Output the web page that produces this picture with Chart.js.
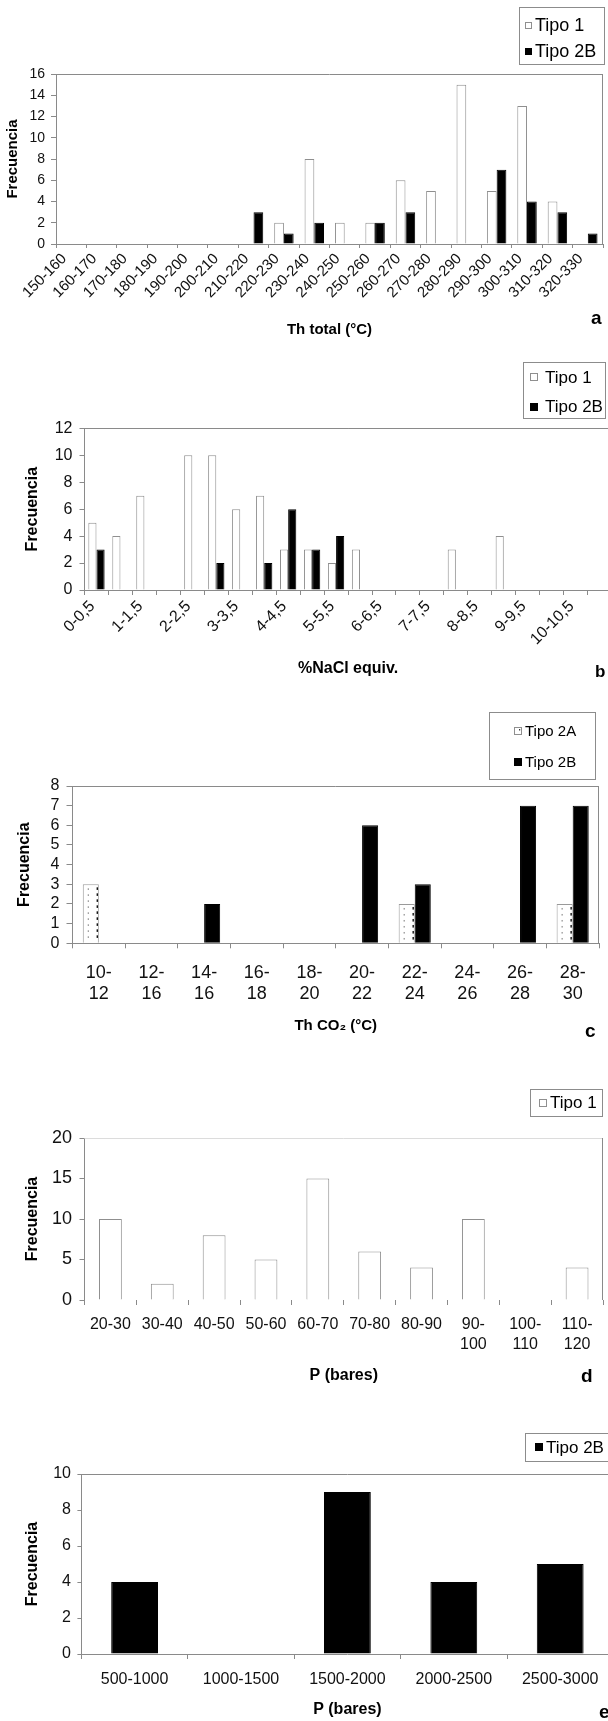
<!DOCTYPE html>
<html>
<head>
<meta charset="utf-8">
<script src="https://cdn.jsdelivr.net/npm/chart.js@4.4.1/dist/chart.umd.min.js"></script>
<style>
html,body{margin:0;padding:0;background:#fff;width:608px;height:1721px;overflow:hidden;}
.wrap{position:absolute;left:0;width:608px;overflow:hidden;background:#fff;}
canvas{display:block;}
</style>
</head>
<body>
<div class="wrap" style="top:0;height:340px"><canvas id="ca" width="608" height="340"></canvas></div>
<div class="wrap" style="top:340px;height:340px"><canvas id="cb" width="620" height="340"></canvas></div>
<div class="wrap" style="top:680px;height:360px"><canvas id="cc" width="608" height="360"></canvas></div>
<div class="wrap" style="top:1040px;height:350px"><canvas id="cd" width="608" height="350"></canvas></div>
<div class="wrap" style="top:1390px;height:331px"><canvas id="ce" width="620" height="331"></canvas></div>
<script>
// ---------------- DATA ----------------
const catA = ['150-160','160-170','170-180','180-190','190-200','200-210','210-220','220-230','230-240','240-250','250-260','260-270','270-280','280-290','290-300','300-310','310-320','320-330'];
const tipo1A  = [0,0,0,0,0,0,0,2,8,2,2,6,5,15,5,13,4,0];
const tipo2bA = [0,0,0,0,0,0,3,1,2,0,2,3,0,0,7,4,3,1];

const catB = ['0-0,5','0,5-1','1-1,5','1,5-2','2-2,5','2,5-3','3-3,5','3,5-4','4-4,5','4,5-5','5-5,5','5,5-6','6-6,5','6,5-7','7-7,5','7,5-8','8-8,5','8,5-9','9-9,5','9,5-10','10-10,5','10,5-11'];
const tipo1B  = [5,4,7,0,10,10,6,7,3,3,2,3,0,0,0,3,0,4,0,0,0,0];
const tipo2bB = [3,0,0,0,0,2,0,2,6,3,4,0,0,0,0,0,0,0,0,0,0,0];

const catC = ['10-12','12-16','14-16','16-18','18-20','20-22','22-24','24-26','26-28','28-30'];
const tipo2aC = [3,0,0,0,0,0,2,0,0,2];
const tipo2bC = [0,0,2,0,0,6,3,0,7,7];

const catD = ['20-30','30-40','40-50','50-60','60-70','70-80','80-90','90-100','100-110','110-120'];
const tipo1D = [10,2,8,5,15,6,4,10,0,4];

const catE = ['500-1000','1000-1500','1500-2000','2000-2500','2500-3000'];
const tipo2bE = [4,0,9,4,5];

const yTitle = 'Frecuencia';

// ---------------- STYLE ----------------
const FONT = "'Liberation Sans', Arial, Helvetica, sans-serif";
Chart.defaults.font.family = FONT;
Chart.defaults.color = '#111';
const GRAY = '#8a8a8a';

function ds1(label, data){ return {label, data, backgroundColor:'#ffffff', borderColor:'#8f8f8f', borderWidth:1}; }
function dsB(label, data){ return {label, data, backgroundColor:'#000000', borderColor:'#000000', borderWidth:1}; }
function dsA(label, data){ return {label, data, backgroundColor:'#ffffff', borderColor:'#9a9a9a', borderWidth:1, dotted:true}; }

function drawDots(ctx, l, r, top, bottom){
  for (let yy = top + 4; yy < bottom - 1; yy += 6) {
    ctx.fillStyle = '#7a7a7a'; ctx.fillRect(l + 5, yy, 1, 1.6);
    ctx.fillStyle = '#000'; ctx.fillRect(r - 2.2, yy - 1, 1.3, 2.6);
  }
}

function decoPlugin(cfg){
  return {
    id: 'deco',
    afterDatasetsDraw(chart){
      const ctx = chart.ctx;
      ctx.save();
      chart.data.datasets.forEach((d, i) => {
        if (!d.dotted) return;
        chart.getDatasetMeta(i).data.forEach(el => {
          const p = el.getProps(['x','y','base','width'], true);
          if (p.base - p.y < 2) return;
          drawDots(ctx, p.x - p.width/2, p.x + p.width/2, p.y, p.base);
        });
      });
      ctx.restore();
    },
    afterDraw(chart){
      const ctx = chart.ctx, a = chart.chartArea;
      ctx.save();
      ctx.lineWidth = 1;
      if (cfg.frameTop) {
        ctx.strokeStyle = cfg.frameTop;
        ctx.beginPath(); ctx.moveTo(a.left, Math.round(a.top)+0.5); ctx.lineTo(a.right, Math.round(a.top)+0.5); ctx.stroke();
      }
      if (cfg.frameRight) {
        ctx.strokeStyle = cfg.frameRight;
        ctx.beginPath(); ctx.moveTo(Math.round(a.right)-0.5, a.top); ctx.lineTo(Math.round(a.right)-0.5, a.bottom); ctx.stroke();
      }
      // legend
      const lg = cfg.legend;
      ctx.strokeStyle = '#8c8c8c';
      ctx.strokeRect(Math.round(lg.x)+0.5, Math.round(lg.y)+0.5, Math.round(lg.w), Math.round(lg.h));
      lg.items.forEach(it => {
        const d = chart.data.datasets[it.ds];
        const s = lg.mk, mx = lg.mx, my = Math.round(it.y - s/2);
        ctx.fillStyle = d.backgroundColor; ctx.fillRect(mx, my, s, s);
        ctx.strokeStyle = d.borderColor === '#000000' ? '#000' : '#8f8f8f';
        ctx.strokeRect(mx+0.5, my+0.5, s-1, s-1);
        if (d.dotted) { ctx.fillStyle = '#333'; ctx.fillRect(mx + s - 3, my + 2, 1.2, 1.5); }
        ctx.fillStyle = '#000'; ctx.font = lg.font; ctx.textAlign = 'left'; ctx.textBaseline = 'middle';
        ctx.fillText(d.label, lg.tx, it.y + 1);
      });
      // panel letter
      const L = cfg.letter;
      ctx.fillStyle = '#000'; ctx.font = L.font; ctx.textAlign = 'left'; ctx.textBaseline = 'alphabetic';
      ctx.fillText(L.text, L.x, L.y);
      ctx.restore();
    }
  };
}

function makeChart(id, cfg){
  const canvas = document.getElementById(id);
  const W = canvas.width, H = canvas.height;
  const xticks = {
    autoSkip:false, maxRotation:cfg.rot, minRotation:cfg.rot, padding:cfg.xPad,
    labelOffset: cfg.xLabelOffset || 0,
    font:{size:cfg.xFont, lineHeight:cfg.xLH || 1.2}, color:'#111'
  };
  if (cfg.xCallback) xticks.callback = cfg.xCallback;
  return new Chart(canvas, {
    type:'bar',
    data:{labels:cfg.labels, datasets:cfg.datasets},
    options:{
      responsive:false, animation:false, devicePixelRatio:1,
      layout:{padding:{left:0, top:cfg.T, right:W - cfg.R, bottom:H - cfg.B - cfg.xH}},
      datasets:{bar:{categoryPercentage:cfg.catPct, barPercentage:1}},
      plugins:{legend:{display:false}, tooltip:{enabled:false}, title:{display:false}},
      scales:{
        x:{
          offset:true,
          grid:{display:true, drawOnChartArea:false, drawTicks:true, tickLength:cfg.xTick, color:GRAY, offset:true},
          border:{display:cfg.xBorder !== false, color:GRAY},
          ticks:xticks,
          title:{display:true, text:cfg.xTitle, font:{size:cfg.xTitleSize, weight:'bold'}, color:'#000', padding:{top:0, bottom:0}},
          afterFit:s => { s.height = cfg.xH; }
        },
        y:{
          min:0, max:cfg.yMax,
          ticks:{stepSize:cfg.yStep, autoSkip:false, padding:cfg.yPad, font:{size:cfg.yFont}, color:'#111'},
          grid:{display:true, drawOnChartArea:false, drawTicks:true, tickLength:cfg.yTick, color:GRAY},
          border:{display:true, color:GRAY},
          title:{display:true, text:yTitle, font:{size:cfg.yTitleSize, weight:'bold'}, color:'#000', padding:{top:cfg.yTitlePad, bottom:0}},
          afterFit:s => { s.width = cfg.L; }
        }
      }
    },
    plugins:[decoPlugin(cfg)]
  });
}

function wrapDash(v){
  const s = this.getLabelForValue(v);
  const i = s.indexOf('-');
  return [s.slice(0, i+1), s.slice(i+1)];
}
function wrapLong(v){
  const s = this.getLabelForValue(v);
  if (s.length <= 5) return s;
  const i = s.indexOf('-');
  return [s.slice(0, i+1), s.slice(i+1)];
}

// ---------------- CHART a ----------------
makeChart('ca', {
  labels:catA,
  datasets:[ds1('Tipo 1', tipo1A), dsB('Tipo 2B', tipo2bA)],
  L:56, R:603, T:74, B:244, xH:95,
  catPct:0.64, rot:45, xPad:2, xTick:4, xFont:15, xLabelOffset:-7,
  xTitle:'Th total (°C)', xTitleSize:15,
  yMax:16, yStep:2, yPad:6, yTick:5, yFont:14, yTitleSize:15, yTitlePad:4,
  frameTop:GRAY, frameRight:GRAY,
  legend:{x:519, y:7, w:85, h:57, mx:525, mk:7, tx:535, font:"18px "+FONT, items:[{ds:0,y:25},{ds:1,y:51}]},
  letter:{text:'a', x:591, y:324, font:"bold 19px "+FONT}
});

// ---------------- CHART b ----------------
makeChart('cb', {
  labels:catB,
  datasets:[ds1('Tipo 1', tipo1B), dsB('Tipo 2B', tipo2bB)],
  L:84.5, R:611.6, T:88.3, B:250, xH:88.6,
  catPct:0.68, rot:45, xPad:2, xTick:5, xFont:16, xLabelOffset:-4,
  xCallback:function(v, i){ return i % 2 === 0 ? this.getLabelForValue(v) : ''; },
  xTitle:'%NaCl equiv.', xTitleSize:16,
  yMax:12, yStep:2, yPad:7, yTick:5, yFont:16, yTitleSize:16, yTitlePad:23.4,
  frameTop:GRAY, frameRight:GRAY,
  legend:{x:523, y:22, w:82, h:56, mx:530, mk:8, tx:545, font:"17px "+FONT, items:[{ds:0,y:37},{ds:1,y:66.5}]},
  letter:{text:'b', x:595, y:337, font:"bold 17px "+FONT}
});

// ---------------- CHART c ----------------
makeChart('cc', {
  labels:catC,
  datasets:[dsA('Tipo 2A', tipo2aC), dsB('Tipo 2B', tipo2bC)],
  L:72.5, R:599, T:106, B:263.3, xH:91.7,
  catPct:0.61, rot:0, xPad:14.8, xTick:5, xFont:18, xLH:1.15,
  xCallback:wrapDash,
  xTitle:'Th CO₂ (°C)', xTitleSize:15,
  yMax:8, yStep:1, yPad:7, yTick:6, yFont:16, yTitleSize:16, yTitlePad:15.4,
  frameTop:GRAY, frameRight:GRAY,
  legend:{x:489, y:32, w:106, h:67, mx:514, mk:8, tx:525, font:"15px "+FONT, items:[{ds:0,y:50.7},{ds:1,y:81.7}]},
  letter:{text:'c', x:585, y:357, font:"bold 19px "+FONT}
});

// ---------------- CHART d ----------------
makeChart('cd', {
  labels:catD,
  datasets:[ds1('Tipo 1', tipo1D)],
  L:84.5, R:603, T:98, B:260, xH:85.6,
  catPct:0.44, rot:0, xPad:10, xTick:5, xFont:16, xLH:1.25, xBorder:false,
  xCallback:wrapLong,
  xTitle:'P (bares)', xTitleSize:16,
  yMax:20, yStep:5, yPad:7.5, yTick:5, yFont:18, yTitleSize:16, yTitlePad:23.4,
  frameTop:'#dcdcdc', frameRight:GRAY,
  legend:{x:530, y:49, w:72, h:27, mx:539, mk:8, tx:550, font:"17px "+FONT, items:[{ds:0,y:62.5}]},
  letter:{text:'d', x:581, y:342, font:"bold 19px "+FONT}
});

// ---------------- CHART e ----------------
makeChart('ce', {
  labels:catE,
  datasets:[dsB('Tipo 2B', tipo2bE)],
  L:81.4, R:613.4, T:84, B:264, xH:65.6,
  catPct:0.44, rot:0, xPad:11.4, xTick:5, xFont:16,
  xTitle:'P (bares)', xTitleSize:16,
  yMax:10, yStep:2, yPad:6.4, yTick:4, yFont:16, yTitleSize:16, yTitlePad:23.4,
  frameTop:GRAY, frameRight:GRAY,
  legend:{x:525, y:43, w:95, h:28, mx:535, mk:8, tx:546, font:"17px "+FONT, items:[{ds:0,y:57}]},
  letter:{text:'e', x:599, y:328, font:"bold 19px "+FONT}
});
</script>
</body>
</html>
